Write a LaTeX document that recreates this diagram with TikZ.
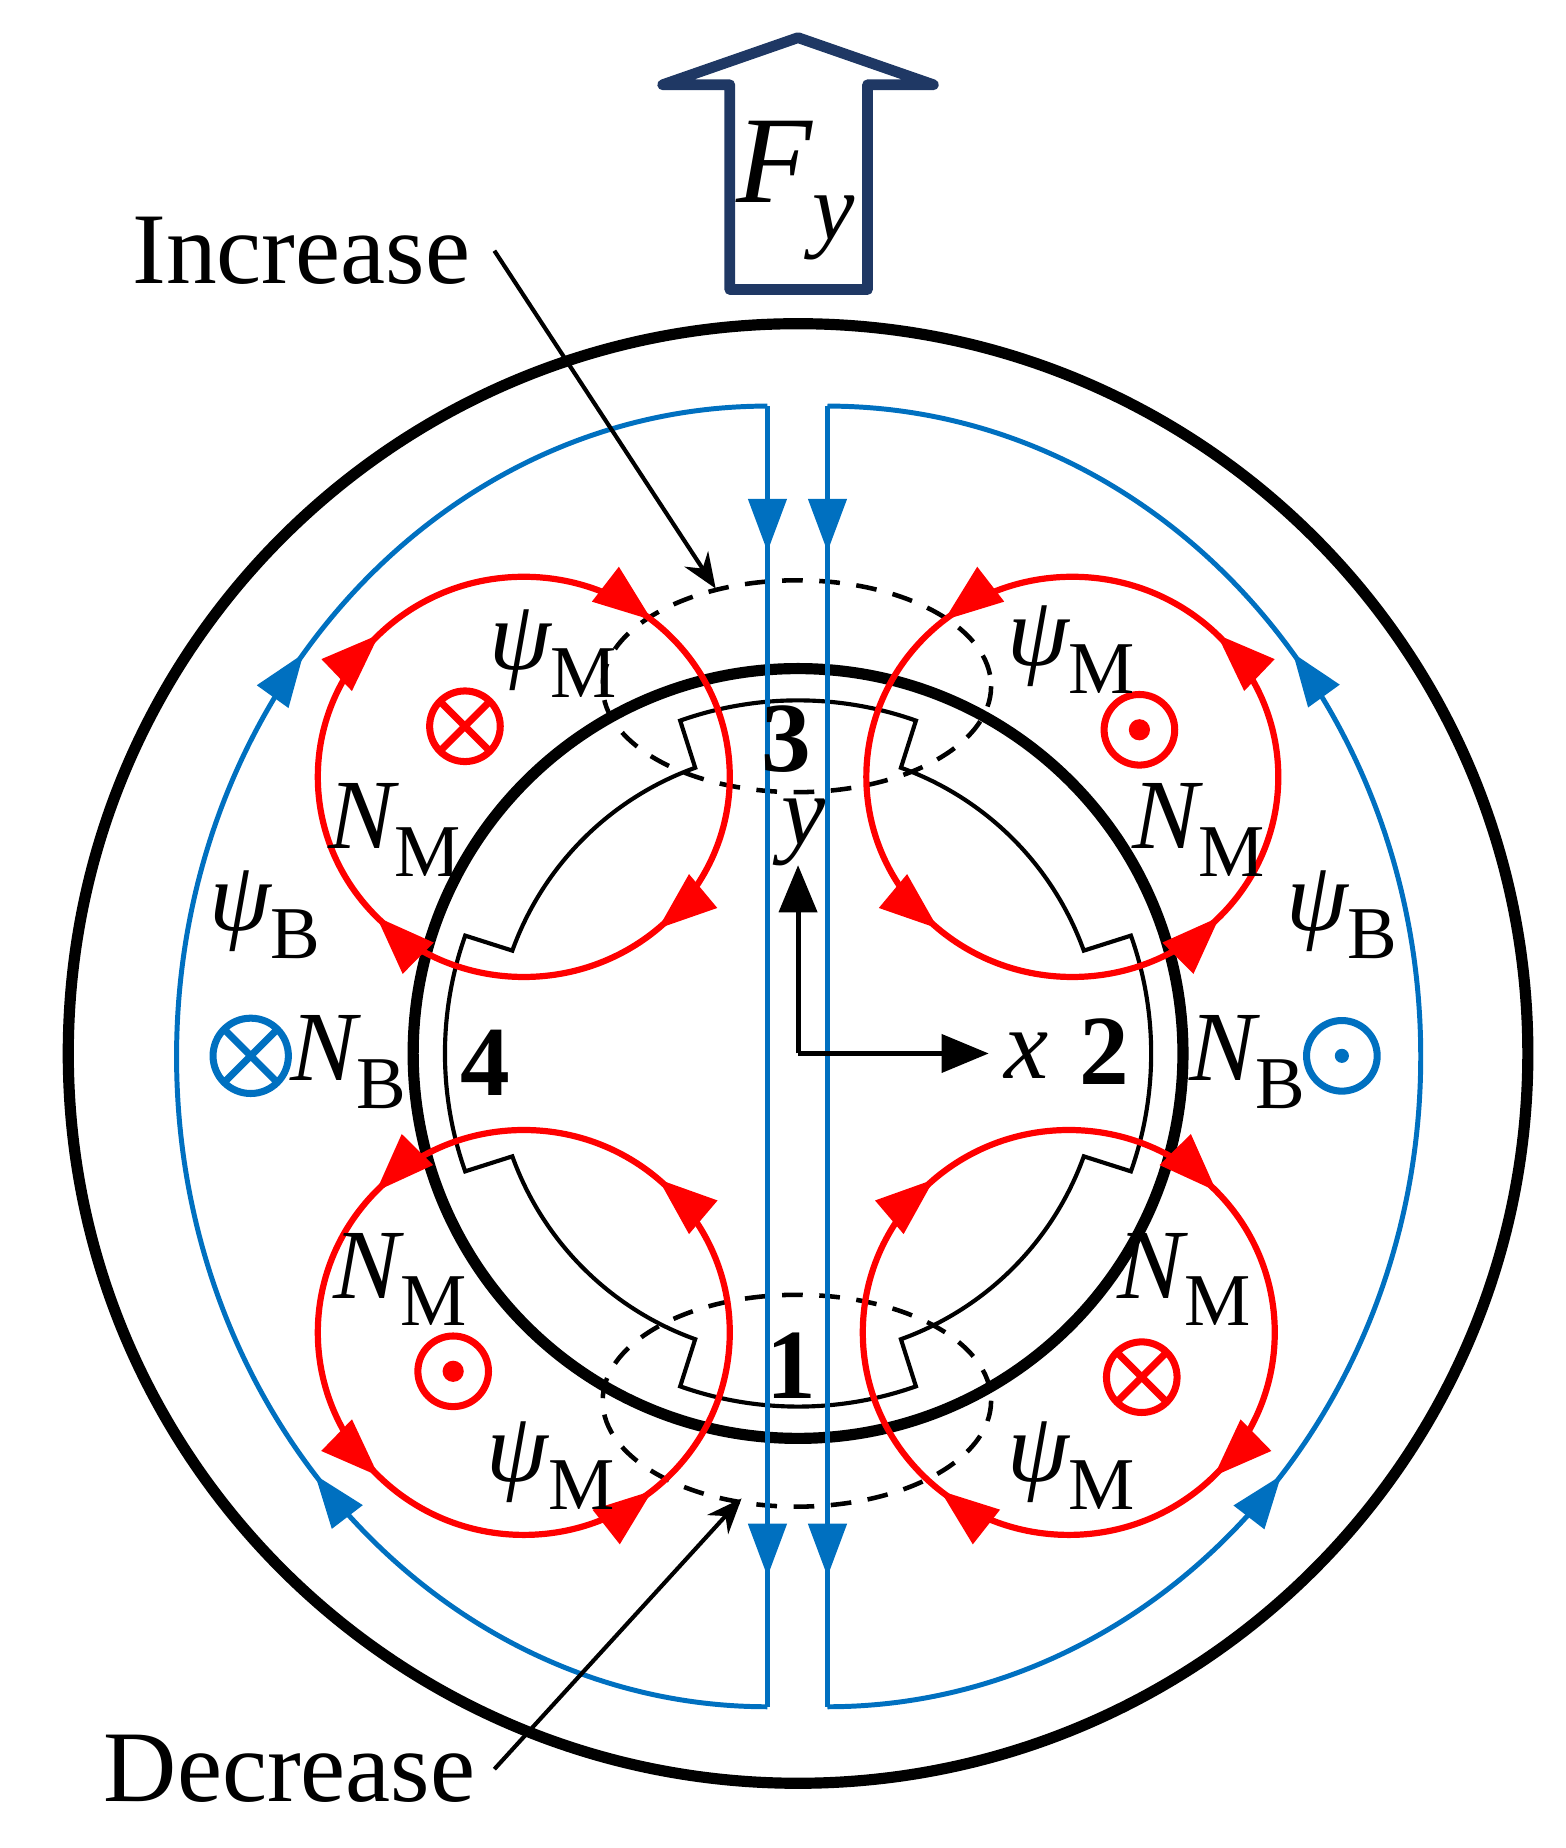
\documentclass[tikz,border=0pt]{standalone}
\usepackage{fontspec}
\setmainfont{Liberation Serif}
\usetikzlibrary{arrows.meta,decorations.markings,calc}
\definecolor{cblue}{HTML}{0070C0}
\definecolor{cred}{HTML}{FF0000}
\definecolor{cnavy}{HTML}{1F3864}
\newcommand{\lab}[2]{{\itshape #1}\raisebox{-0.28em}{\fontsize{18}{18}\selectfont #2}}
\tikzset{
  redloop/.style={draw=cred,line width=1.5pt,postaction={decorate},
    decoration={markings,
      mark=at position 0.136 with {\arrow{Triangle[length=5mm,width=3.6mm]}},
      mark=at position 0.378 with {\arrow{Triangle[length=5mm,width=3.6mm]}},
      mark=at position 0.625 with {\arrow{Triangle[length=5mm,width=3.6mm]}},
      mark=at position 0.858 with {\arrow{Triangle[length=5mm,width=3.6mm]}}}},
  bluearc/.style={draw=cblue,line width=1.2pt,postaction={decorate},
    decoration={markings,
      mark=at position 0.27 with {\arrow{Triangle[length=4.5mm,width=3.2mm]}},
      mark=at position 0.72 with {\arrow{Triangle[length=4.5mm,width=3.2mm]}}}},
  bluevert/.style={draw=cblue,line width=1.4pt,postaction={decorate},
    decoration={markings,
      mark=at position 0.112 with {\arrow{Triangle[length=4.5mm,width=3.2mm]}},
      mark=at position 0.9 with {\arrow{Triangle[length=4.5mm,width=3.2mm]}}}},
  lbl/.style={font=\fontsize{24}{27}\selectfont,inner sep=0pt},
  num/.style={font=\fontsize{24}{27}\selectfont\bfseries,inner sep=0pt},
  ptr/.style={draw=black,line width=1pt,-{Stealth[length=3mm,width=2.4mm]}},
}
\begin{document}
\begin{tikzpicture}[x=0.01cm,y=-0.01cm]
\useasboundingbox (0,0) rectangle (1330,1570);
\coordinate (O) at (678,895);
\draw[line width=2.7pt] (O) circle[radius=620];
\draw[line width=2.7pt] (O) circle[radius=327];
\begin{scope}[shift={(678,895)},line width=1pt]
\draw (-19.5:300) arc[start angle=-19.5,end angle=19.5,radius=300] -- (19.8:258)
  arc[start angle=19.8,end angle=70.2,radius=258] -- (70.5:300)
  arc[start angle=70.5,end angle=109.5,radius=300] -- (109.8:258)
  arc[start angle=109.8,end angle=160.2,radius=258] -- (160.5:300)
  arc[start angle=160.5,end angle=199.5,radius=300] -- (199.8:258)
  arc[start angle=199.8,end angle=250.2,radius=258] -- (250.5:300)
  arc[start angle=250.5,end angle=289.5,radius=300] -- (289.8:258)
  arc[start angle=289.8,end angle=340.2,radius=258] -- cycle;
\end{scope}
\draw[line width=1.1pt,dash pattern=on 5pt off 4pt] (677,583) ellipse[x radius=165,y radius=90];
\draw[line width=1.1pt,dash pattern=on 5pt off 4pt] (677,1190) ellipse[x radius=165,y radius=90];
\coordinate (LT) at (652,345); \coordinate (LB) at (652,1450);
\coordinate (RT) at (703,345); \coordinate (RB) at (703,1450);
\draw[bluevert] (LT) -- (LB);
\draw[bluevert] (RT) -- (RB);
\draw[bluearc] (LB) arc[start angle=90,end angle=270,x radius=502,y radius=552.5];
\draw[bluearc] (RB) arc[start angle=90,end angle=-90,x radius=504,y radius=552.5];
\draw[redloop] (620,660) arc[start angle=0,end angle=360,x radius=175,y radius=170];
\draw[redloop] (736,660) arc[start angle=180,end angle=-180,x radius=175,y radius=170];
\draw[redloop] (620,1132) arc[start angle=0,end angle=-360,x radius=175,y radius=172];
\draw[redloop] (733,1132) arc[start angle=180,end angle=540,x radius=175,y radius=172];
\begin{scope}[line width=1.7pt]
\draw[cred] (395,617) circle[radius=30] +(-21,-21) -- +(21,21) +(-21,21) -- +(21,-21);
\draw[cred] (970,1170) circle[radius=30] +(-21,-21) -- +(21,21) +(-21,21) -- +(21,-21);
\draw[cred] (968,620) circle[radius=30]; \fill[cred] (968,620) circle[radius=9];
\draw[cred] (385,1165) circle[radius=30]; \fill[cred] (385,1165) circle[radius=9];
\draw[cblue] (213,897) circle[radius=32] +(-22,-22) -- +(22,22) +(-22,22) -- +(22,-22);
\draw[cblue] (1140,897) circle[radius=30]; \fill[cblue] (1140,897) circle[radius=6];
\end{scope}
\coordinate (ax) at (840,895); \coordinate (ay) at (678,735);
\draw[line width=1.2pt,-{Triangle[length=4mm,width=3.2mm]}] (O) -- (ax);
\draw[line width=1.2pt,-{Triangle[length=4mm,width=3.2mm]}] (O) -- (ay);
\node[lbl] (lx) at (872,897) {\itshape x};
\node[lbl] (ly) at (683,707) {\itshape y};
\node[num] (n3) at (668,628) {3};
\node[num] (n4) at (412,903) {4};
\node[num] (n2) at (938,893) {2};
\node[num] (n1) at (672,1160) {1};
\node[lbl] (p1) at (470,555) {\lab{ψ}{M}};
\node[lbl] (p2) at (910,552) {\lab{ψ}{M}};
\node[lbl] (p3) at (468,1245) {\lab{ψ}{M}};
\node[lbl] (p4) at (910,1245) {\lab{ψ}{M}};
\node[lbl] (m1) at (335,705) {\lab{N}{M}};
\node[lbl] (m2) at (1018,705) {\lab{N}{M}};
\node[lbl] (m3) at (340,1087) {\lab{N}{M}};
\node[lbl] (m4) at (1006,1087) {\lab{N}{M}};
\node[lbl] (b1) at (225,777) {\lab{ψ}{B}};
\node[lbl] (b2) at (1140,777) {\lab{ψ}{B}};
\node[lbl] (nb1) at (296,902) {\lab{N}{B}};
\node[lbl] (nb2) at (1060,902) {\lab{N}{B}};
\node[lbl,font=\fontsize{24.5}{28}\selectfont] (inc) at (256,213) {Increase};
\node[lbl,font=\fontsize{24.5}{28}\selectfont] (dec) at (246,1503) {Decrease};
\coordinate (incE) at (420,213); \coordinate (incT) at (608,500);
\coordinate (decE) at (420,1503); \coordinate (decT) at (630,1273);
\draw[ptr] (incE) -- (incT);
\draw[ptr] (decE) -- (decT);
\draw[cnavy,line width=2.6pt,line join=round,line cap=round] (620,246) -- (620,72) -- (563,72) -- (678,32) -- (793,72) -- (737,72) -- (737,246) -- cycle;
\node[inner sep=0pt] (F) at (676,162) {\fontsize{30}{32}\selectfont\itshape F\raisebox{-0.3em}{\fontsize{23}{23}\selectfont y}};
\end{tikzpicture}
\end{document}
